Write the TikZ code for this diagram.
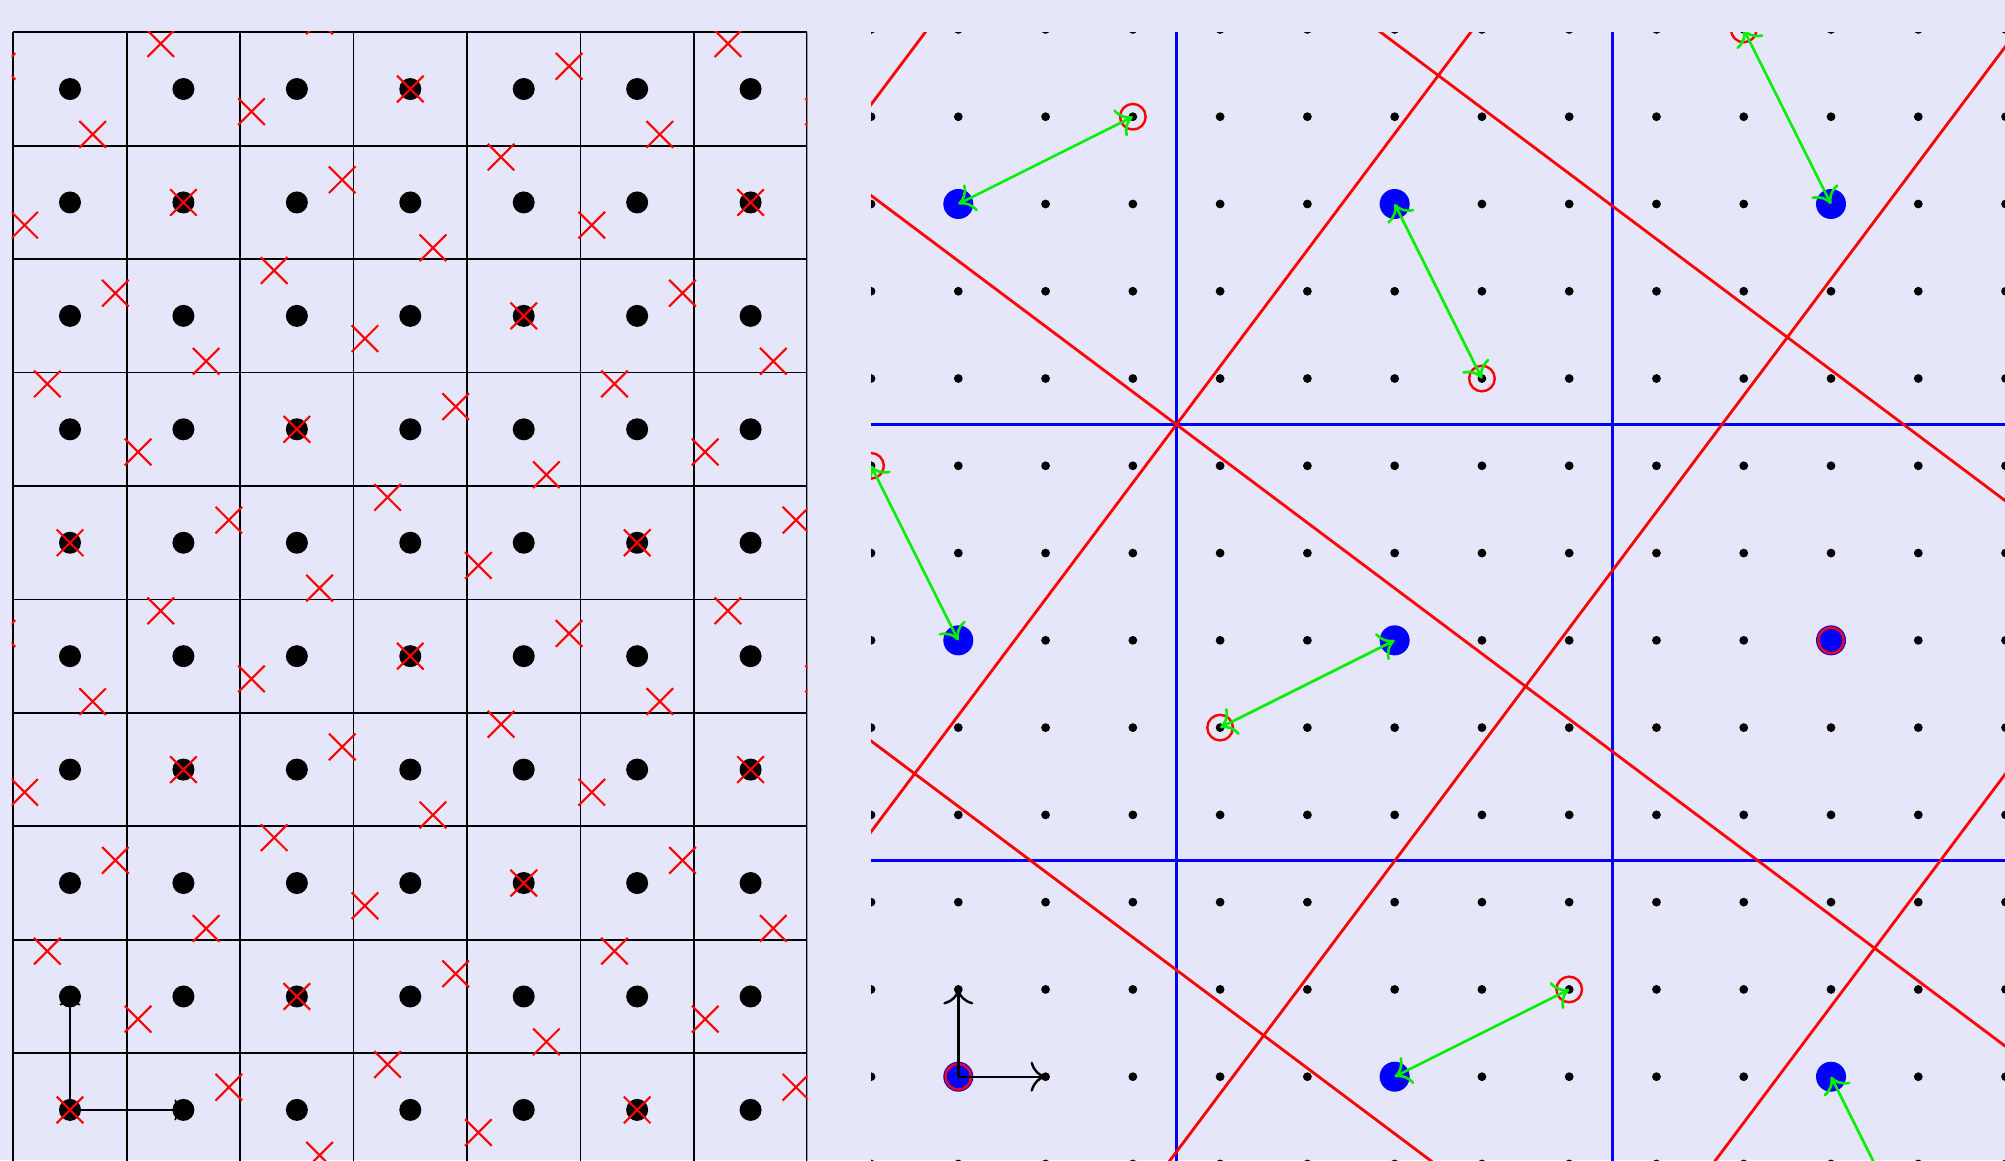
\documentclass[tikz,border=0pt]{standalone}
\usetikzlibrary{arrows.meta}
\definecolor{bg}{RGB}{230,230,250}
\definecolor{pblue}{RGB}{0,0,255}
\definecolor{pred}{RGB}{255,0,0}
\definecolor{pgreen}{RGB}{0,238,0}
\tikzset{
  gridline/.style={black,line width=1.8pt},
  xmark/.style={pred,line width=2.1pt},
  bigdot/.style={black},
  smalldot/.style={black},
  blueline/.style={pblue,line width=3pt},
  redline/.style={pred,line width=2.8pt},
  bluedot/.style={pblue},
  redring/.style={pred,line width=2.4pt},
  greenarrow/.style={pgreen,line width=2.6pt,{To[length=15pt,width=30pt]}-{To[length=15pt,width=30pt]}},
  axarrowL/.style={black,line width=1.8pt,-{To[length=9pt,width=21pt]}},
  axarrowR/.style={black,line width=2.4pt,-{To[length=15pt,width=30pt]}}
}
\begin{document}
\begin{tikzpicture}[x=1pt,y=1pt]
\fill[bg] (0,0) rectangle (2005,1160);
\useasboundingbox (0,0) rectangle (2005,1160);
\clip (0,0) rectangle (2005,1160);
% ---------------- left panel ----------------
\begin{scope}[shift={(70pt,50.1pt)},x=113.43pt,y=113.43pt]
  \clip (-0.515,-0.7) rectangle (6.5,9.507);
  \foreach \i in {0,...,7}{
    \draw[gridline] (\i-0.5,-0.7) -- (\i-0.5,9.5);
  }
  \foreach \j in {0,...,10}{
    \draw[gridline] (-0.5,\j-0.5) -- (6.5,\j-0.5);
  }
  \coordinate (L0) at (0,0);
  \coordinate (Lx) at (1,0);
  \coordinate (Ly) at (0,1);
  \draw[axarrowL] (L0) -- (Lx);
  \draw[axarrowL] (L0) -- (Ly);
  \foreach \i in {0,...,6}{
    \foreach \j in {0,...,9}{
      \fill[bigdot] (\i,\j) circle[radius=11pt];
    }
  }
  \foreach \a in {-7,...,6}{
    \foreach \b in {-1,...,12}{
      \draw[xmark] ({0.8*\a+0.6*\b},{-0.6*\a+0.8*\b}) +(-13.3pt,-13.3pt) -- +(13.3pt,13.3pt)
                   +(-13.3pt,13.3pt) -- +(13.3pt,-13.3pt);
    }
  }
\end{scope}
% ---------------- right panel ----------------
\begin{scope}[shift={(958.3pt,83.3pt)},x=87.27pt,y=87.27pt]
  \clip (-1,-1.5) rectangle (12.7,11.967);
  \foreach \i in {-1,...,12}{
    \foreach \j in {-1,...,12}{
      \fill[smalldot] (\i,\j) circle[radius=4.4pt];
    }
  }
  \begin{scope}[yshift=-2.4pt]
    \draw[blueline] (2.5,-2) -- (2.5,13);
    \draw[blueline] (7.5,-2) -- (7.5,13);
    \draw[blueline] (-2,2.5) -- (14,2.5);
    \draw[blueline] (-2,7.5) -- (14,7.5);
    \foreach \k in {-3,...,3}{
      \pgfmathsetmacro{\o}{2.5+5*\k}
      \draw[redline] ({0.8*\o-0.6*25},{-0.6*\o-0.8*25}) -- ({0.8*\o+0.6*25},{-0.6*\o+0.8*25});
      \draw[redline] ({-0.8*25+0.6*\o},{0.6*25+0.8*\o}) -- ({0.8*25+0.6*\o},{-0.6*25+0.8*\o});
    }
  \end{scope}
  \foreach \m in {0,1,2}{
    \foreach \n in {0,1,2}{
      \coordinate (B\m\n) at (5*\m,5*\n);
      \fill[bluedot] (B\m\n) circle[radius=15pt];
    }
  }
  \foreach \m in {-2,...,3}{
    \foreach \n in {-1,...,4}{
      \draw[redring] ({4*\m+3*\n},{-3*\m+4*\n}) circle[radius=12.8pt];
    }
  }
  \coordinate (R1) at (2,11);
  \coordinate (R2) at (6,8);
  \coordinate (R3) at (9,12);
  \coordinate (R4) at (-1,7);
  \coordinate (R5) at (3,4);
  \coordinate (R6) at (7,1);
  \coordinate (R7) at (11,-2);
  \draw[greenarrow] (B02) -- (R1);
  \draw[greenarrow] (B12) -- (R2);
  \draw[greenarrow] (B22) -- (R3);
  \draw[greenarrow] (B01) -- (R4);
  \draw[greenarrow] (B11) -- (R5);
  \draw[greenarrow] (B10) -- (R6);
  \draw[greenarrow] (B20) -- (R7);
  \coordinate (Ox) at (1,0);
  \coordinate (Oy) at (0,1);
  \draw[axarrowR] (B00) -- (Ox);
  \draw[axarrowR] (B00) -- (Oy);
\end{scope}
\end{tikzpicture}
\end{document}
